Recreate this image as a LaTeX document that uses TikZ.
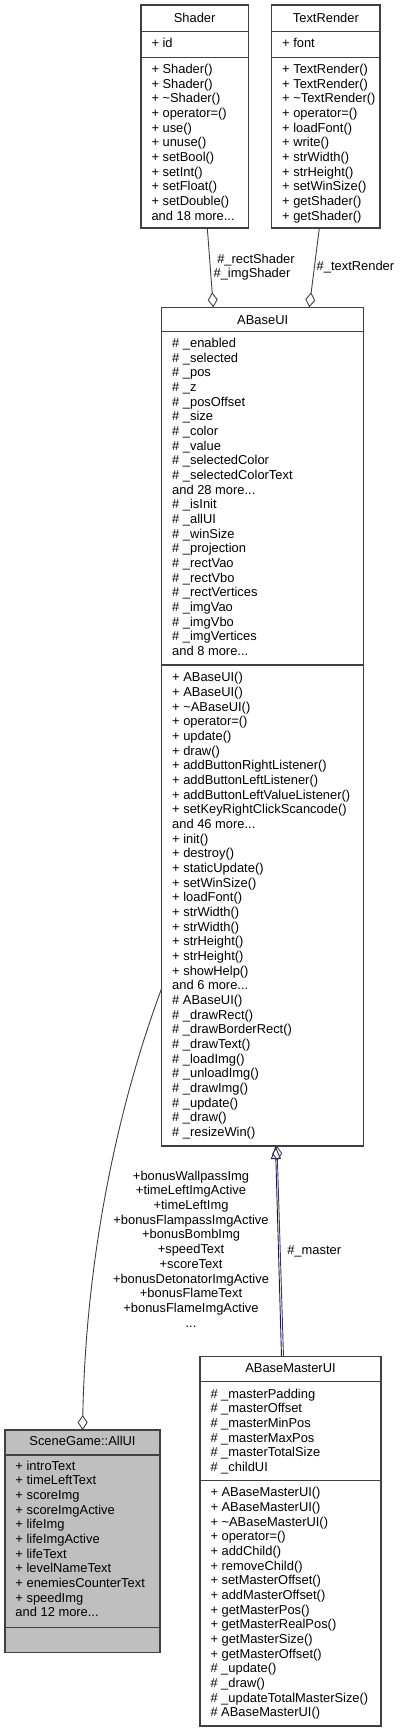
\documentclass[tikz,border=0pt]{standalone}
\usepackage{fontspec}
\setmainfont{Liberation Sans}
\usetikzlibrary{arrows.meta}
\definecolor{boxc}{HTML}{404040}
\definecolor{edgec}{HTML}{404040}
\definecolor{navyc}{HTML}{191970}
\definecolor{greyfill}{HTML}{BFBFBF}
\tikzset{
  txt/.style={font=\fontsize{12.9}{14.67}\selectfont, inner sep=0pt, outer sep=0pt, text=black},
  box/.style={draw=boxc, line width=1.1pt, inner sep=0pt, outer sep=0pt, anchor=north west, fill=white},
  sepline/.style={draw=boxc, line width=1.1pt},
  agg/.style={draw=edgec, line width=0.9pt, -{Diamond[open, length=15pt, width=10pt]}},
  inh/.style={draw=navyc, line width=0.9pt, -{Triangle[open, length=13pt, width=10pt]}},
}
\newcommand\ddd{...}
\newcommand\tlines[5]{\foreach \lt [count=\nn] in {#5} {\node[txt, anchor=#4] (#1\nn) at (#2, {#3+(\nn-1)*14.67}) {\lt};}}
\begin{document}
\begin{tikzpicture}[x=1pt, y=-1pt]
\useasboundingbox (0,0) rectangle (401,1732);

% Shader
\node[box, minimum width=107.3pt, minimum height=223pt] (shader) at (141,5) {};
\draw[sepline] (141,31.7) -- (248.3,31.7);
\draw[sepline] (141,57.3) -- (248.3,57.3);
\node[txt, anchor=base] (shader-t) at (194.65,22.5) {Shader};
\tlines{sha-a}{151.5}{47}{base west}{+ id}
\tlines{sha-m}{151.5}{73.5}{base west}{+ Shader(), + Shader(), + \textasciitilde Shader(), + operator=(), + use(), + unuse(), + setBool(), + setInt(), + setFloat(), + setDouble(), and 18 more\ddd}

% TextRender
\node[box, minimum width=108.3pt, minimum height=223pt] (tr) at (271.7,5) {};
\draw[sepline] (271.7,31.7) -- (380,31.7);
\draw[sepline] (271.7,57.3) -- (380,57.3);
\node[txt, anchor=base] (tr-t) at (325.85,22.5) {TextRender};
\tlines{tr-a}{282.2}{47}{base west}{+ font}
\tlines{tr-m}{282.2}{73.5}{base west}{+ TextRender(), + TextRender(), + \textasciitilde TextRender(), + operator=(), + loadFont(), + write(), + strWidth(), + strHeight(), + setWinSize(), + getShader(), + getShader()}

% ABaseUI
\node[box, minimum width=202pt, minimum height=838.7pt] (abui) at (161.7,307.3) {};
\draw[sepline] (161.7,331.7) -- (363.7,331.7);
\draw[sepline] (161.7,665) -- (363.7,665);
\node[txt, anchor=base] (abui-t) at (262.7,324) {ABaseUI};
\tlines{abui-a}{172.2}{347.5}{base west}{\# \_enabled, \# \_selected, \# \_pos, \# \_z, \# \_posOffset, \# \_size, \# \_color, \# \_value, \# \_selectedColor, \# \_selectedColorText, and 28 more\ddd, \# \_isInit, \# \_allUI, \# \_winSize, \# \_projection, \# \_rectVao, \# \_rectVbo, \# \_rectVertices, \# \_imgVao, \# \_imgVbo, \# \_imgVertices, and 8 more\ddd}
\tlines{abui-m}{172.2}{681.7}{base west}{+ ABaseUI(), + ABaseUI(), + \textasciitilde ABaseUI(), + operator=(), + update(), + draw(), + addButtonRightListener(), + addButtonLeftListener(), + addButtonLeftValueListener(), + setKeyRightClickScancode(), and 46 more\ddd, + init(), + destroy(), + staticUpdate(), + setWinSize(), + loadFont(), + strWidth(), + strWidth(), + strHeight(), + strHeight(), + showHelp(), and 6 more\ddd, \# ABaseUI(), \# \_drawRect(), \# \_drawBorderRect(), \# \_drawText(), \# \_loadImg(), \# \_unloadImg(), \# \_drawImg(), \# \_update(), \# \_draw(), \# \_resizeWin()}

% SceneGame::AllUI
\node[box, fill=greyfill, minimum width=155pt, minimum height=222.3pt] (allui) at (5,1430) {};
\draw[sepline] (5,1455) -- (160,1455);
\draw[sepline] (5,1627.3) -- (160,1627.3);
\node[txt, anchor=base] (allui-t) at (82.5,1445.7) {SceneGame::AllUI};
\tlines{allui-a}{15.5}{1470}{base west}{+ introText, + timeLeftText, + scoreImg, + scoreImgActive, + lifeImg, + lifeImgActive, + lifeText, + levelNameText, + enemiesCounterText, + speedImg, and 12 more\ddd}

% ABaseMasterUI
\node[box, minimum width=181pt, minimum height=369.3pt] (abmui) at (200,1356.7) {};
\draw[sepline] (200,1381.7) -- (381,1381.7);
\draw[sepline] (200,1480.7) -- (381,1480.7);
\node[txt, anchor=base] (abmui-t) at (290.5,1372.7) {ABaseMasterUI};
\tlines{abmui-a}{210.5}{1398}{base west}{\# \_masterPadding, \# \_masterOffset, \# \_masterMinPos, \# \_masterMaxPos, \# \_masterTotalSize, \# \_childUI}
\tlines{abmui-m}{210.5}{1496.7}{base west}{+ ABaseMasterUI(), + ABaseMasterUI(), + \textasciitilde ABaseMasterUI(), + operator=(), + addChild(), + removeChild(), + setMasterOffset(), + addMasterOffset(), + getMasterPos(), + getMasterRealPos(), + getMasterSize(), + getMasterOffset(), \# \_update(), \# \_draw(), \# \_updateTotalMasterSize(), \# ABaseMasterUI()}

% edges
\draw[agg] ([xshift=12.65pt]shader.south) -- ([xshift=-49.4pt]abui.north);
\draw[agg] ([xshift=-6.5pt]tr.south) -- ([xshift=46.6pt]abui.north);
\draw[agg] ([yshift=-261.65pt]abui.west) .. controls (120,1100) and (86,1250) .. (allui.north);
\draw[inh] ([xshift=-9pt]abmui.north) -- ([xshift=12.8pt]abui.south);
\draw[agg] ([xshift=-7pt]abmui.north) -- ([xshift=14.3pt]abui.south);

% edge labels
\node[txt, anchor=base] (lab-rs) at (256,263.3) {\#\_rectShader};
\node[txt, anchor=base] (lab-is) at (252,277.7) {\#\_imgShader};
\node[txt, anchor=base west] (lab-tr) at (316.7,270) {\#\_textRender};
\tlines{lab-ui}{191}{1180.3}{base}{+bonusWallpassImg, +timeLeftImgActive, +timeLeftImg, +bonusFlampassImgActive, +bonusBombImg, +speedText, +scoreText, +bonusDetonatorImgActive, +bonusFlameText, +bonusFlameImgActive, \ddd}
\node[txt, anchor=base west] (lab-ma) at (287.3,1254) {\#\_master};
\end{tikzpicture}
\end{document}
